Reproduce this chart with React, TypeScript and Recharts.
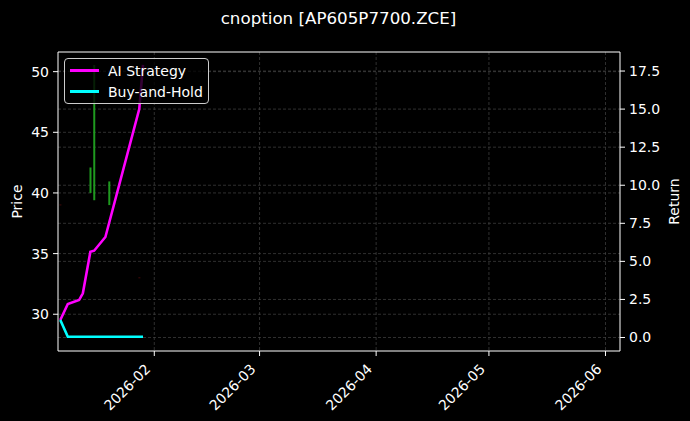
import React from 'react'
import {
  Bar,
  CartesianGrid,
  Cell,
  ComposedChart,
  Line,
  ReferenceLine,
  XAxis,
  YAxis,
} from 'recharts'

// trading days that carry a value (strategy, benchmark or candle)
const dates = [
  '2026-01-07', '2026-01-09', '2026-01-12', '2026-01-13', '2026-01-15',
  '2026-01-16', '2026-01-19', '2026-01-20', '2026-01-28', '2026-01-29',
]
const aiStrategy = [1.15, 2.2, 2.46, 2.9, 5.63, 5.7, 6.6, null, 15.0, 17.9]
const buyHold = [1.15, 0.05, 0.05, 0.05, 0.05, 0.05, 0.05, null, 0.05, 0.05]
const candleLow = [38.98, null, null, null, 40.0, 39.4, null, 39.0, 32.97, null]
const candleHigh = [39.04, null, null, null, 42.1, 50.55, null, 40.95, 33.03, null]
const candleUp = [false, false, false, false, true, true, false, true, false, false]

const monthTicks = ['2026-02-01', '2026-03-01', '2026-04-01', '2026-05-01', '2026-06-01']
const priceTicks = [30, 35, 40, 45, 50]
const returnTicks = [0, 2.5, 5, 7.5, 10, 12.5, 15, 17.5]

const priceDomain = [26.97, 51.62]
const returnDomain = [-0.886, 18.75]
const xDomain = [5.39, 154.86]

const seriesInfo = [
  { key: 'ai', name: 'AI Strategy', color: '#ff00ff' },
  { key: 'bh', name: 'Buy-and-Hold', color: '#00ffff' },
]

const FONT = '"DejaVu Sans", sans-serif'
const TICK_FONT = 14

const toDay = (d: string) =>
  (Date.UTC(+d.slice(0, 4), +d.slice(5, 7) - 1, +d.slice(8, 10)) - Date.UTC(2026, 0, 1)) / 86400000

const data = dates.map((d, i) => ({
  day: toDay(d),
  ai: aiStrategy[i],
  bh: buyHold[i],
  candle: candleLow[i] == null ? null : [candleLow[i], candleHigh[i]],
  up: candleUp[i],
}))

const monthLabel = (day: number) => {
  const idx = monthTicks.findIndex((m) => toDay(m) === day)
  return idx < 0 ? '' : monthTicks[idx].slice(0, 7)
}

function DateTick(props: any) {
  const { x, y, payload } = props
  return (
    <g transform={`translate(${x - 3},${y + 9})`}>
      <text transform="rotate(-45)" textAnchor="end" fill="#ffffff" fontSize={TICK_FONT} fontFamily={FONT}>
        {monthLabel(payload.value)}
      </text>
    </g>
  )
}

function SideLabel({ viewBox, text, x }: any) {
  const cy = viewBox.y + viewBox.height / 2
  return (
    <text
      x={x}
      y={cy}
      transform={`rotate(-90, ${x}, ${cy})`}
      textAnchor="middle"
      dominantBaseline="central"
      fill="#ffffff"
      fontSize={TICK_FONT}
      fontFamily={FONT}
    >
      {text}
    </text>
  )
}

function LegendBox() {
  return (
    <div
      style={{
        position: 'absolute',
        left: 64,
        top: 58,
        background: 'rgba(0,0,0,0.8)',
        border: '1px solid #cccccc',
        borderRadius: 4,
        padding: '1px 5px 1px 5px',
        fontFamily: FONT,
        fontSize: TICK_FONT,
        color: '#ffffff',
      }}
    >
      {seriesInfo.map((s) => (
        <div key={s.key} style={{ display: 'flex', alignItems: 'center', height: 21 }}>
          <div style={{ width: 29, height: 3, background: s.color, marginRight: 9 }} />
          <span>{s.name}</span>
        </div>
      ))}
    </div>
  )
}

export default function App() {
  return (
    <div
      style={{
        position: 'absolute',
        left: 0,
        top: 0,
        width: 690,
        height: 421,
        background: '#000000',
        fontFamily: FONT,
      }}
    >
      <div
        style={{
          position: 'absolute',
          left: 0,
          top: 7,
          width: 677,
          textAlign: 'center',
          color: '#ffffff',
          fontSize: 16.7,
          lineHeight: '22px',
        }}
      >
        cnoption [AP605P7700.ZCE]
      </div>
      <ComposedChart width={690} height={421} data={data} margin={{ top: 52, right: 0, bottom: 0, left: 0 }}>
        <CartesianGrid
          xAxisId="date"
          yAxisId="price"
          stroke="#444444"
          strokeDasharray="3 2"
          strokeWidth={0.7}
          verticalValues={monthTicks.map(toDay)}
          horizontalValues={priceTicks}
        />
        <CartesianGrid
          xAxisId="date"
          yAxisId="ret"
          vertical={false}
          stroke="#444444"
          strokeDasharray="3 2"
          strokeWidth={0.7}
          horizontalValues={returnTicks}
        />
        <XAxis
          xAxisId="date"
          dataKey="day"
          type="number"
          domain={xDomain}
          allowDataOverflow
          ticks={monthTicks.map(toDay)}
          interval={0}
          height={70}
          stroke="#ffffff"
          tickSize={5}
          tickMargin={5}
          tick={<DateTick />}
        />
        <YAxis
          yAxisId="price"
          orientation="left"
          width={58}
          type="number"
          domain={priceDomain}
          allowDataOverflow
          ticks={priceTicks}
          interval={0}
          stroke="#ffffff"
          tickSize={5}
          tickMargin={4}
          tick={{ fill: '#ffffff', fontSize: TICK_FONT, fontFamily: FONT }}
          label={{ content: (p: any) => <SideLabel viewBox={p.viewBox} text="Price" x={17} /> }}
        />
        <YAxis
          yAxisId="ret"
          orientation="right"
          width={70}
          type="number"
          domain={returnDomain}
          allowDataOverflow
          ticks={returnTicks}
          interval={0}
          stroke="#ffffff"
          tickSize={5}
          tickMargin={4}
          tickFormatter={(v: number) => v.toFixed(1)}
          tick={{ fill: '#ffffff', fontSize: TICK_FONT, fontFamily: FONT }}
          label={{ content: (p: any) => <SideLabel viewBox={p.viewBox} text="Return" x={674} /> }}
        />
        <ReferenceLine xAxisId="date" yAxisId="price" y={priceDomain[1]} stroke="#ffffff" strokeWidth={1} />
        <Bar
          xAxisId="date"
          yAxisId="price"
          dataKey="candle"
          barSize={2}
          isAnimationActive={false}
          legendType="none"
        >
          {data.map((d, i) => (
            <Cell key={i} fill={d.up ? '#1f9a1f' : '#5a0d0d'} />
          ))}
        </Bar>
        <Line
          xAxisId="date"
          yAxisId="ret"
          type="linear"
          dataKey="ai"
          name="AI Strategy"
          stroke="#ff00ff"
          strokeWidth={2.6}
          dot={false}
          connectNulls
          isAnimationActive={false}
        />
        <Line
          xAxisId="date"
          yAxisId="ret"
          type="linear"
          dataKey="bh"
          name="Buy-and-Hold"
          stroke="#00ffff"
          strokeWidth={2.6}
          dot={false}
          connectNulls
          isAnimationActive={false}
        />
      </ComposedChart>
      <LegendBox />
    </div>
  )
}
